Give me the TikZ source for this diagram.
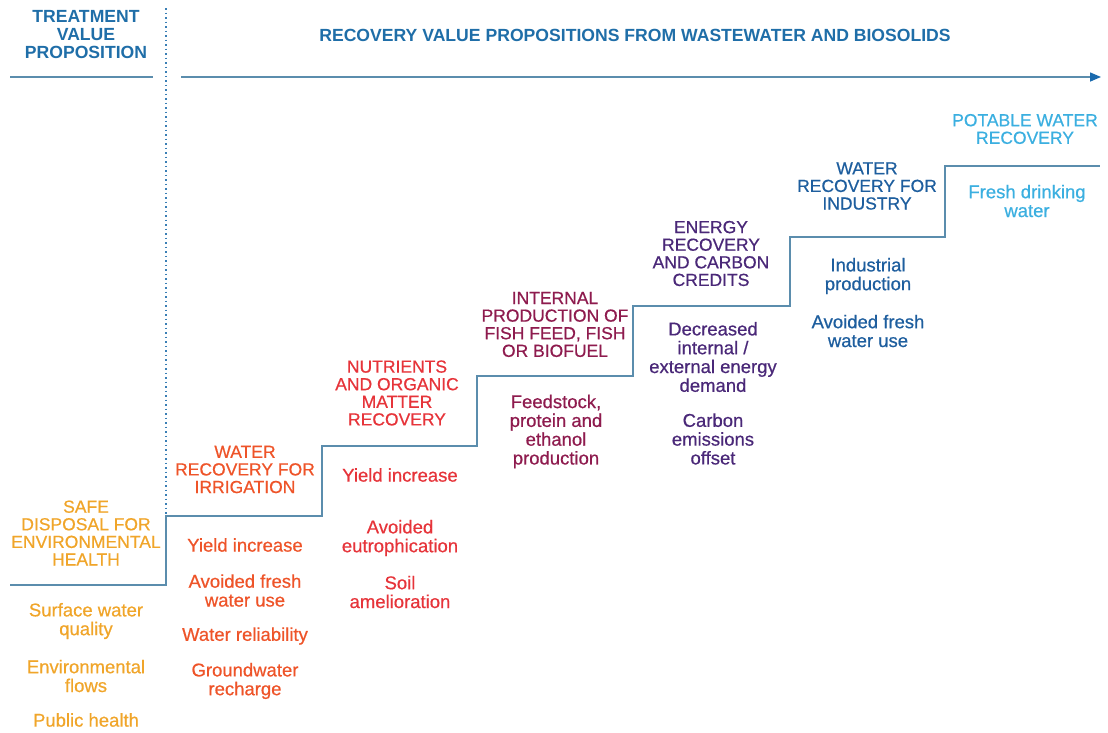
\documentclass[tikz,border=0pt]{standalone}
\usepackage{fontspec}
\setmainfont{Liberation Sans}
\newfontfamily\medfont[FakeBold=0.6]{Liberation Sans}
\usetikzlibrary{arrows.meta}
\definecolor{titleblue}{HTML}{1F6EA8}
\definecolor{stepline}{HTML}{5B8DAD}
\definecolor{dotblue}{HTML}{3A7FB5}
\definecolor{arrowblue}{HTML}{1A6AAE}
\definecolor{safec}{HTML}{F0A52A}
\definecolor{irrigc}{HTML}{EE5429}
\definecolor{nutrc}{HTML}{E6343A}
\definecolor{fishc}{HTML}{8E1B4E}
\definecolor{energyc}{HTML}{4A2878}
\definecolor{indc}{HTML}{1E5E9E}
\definecolor{potc}{HTML}{3BAFE0}
\tikzset{
  head/.style={align=center, inner sep=0pt, font=\medfont\fontsize{17.5}{17.6}\selectfont},
  title/.style={align=center, inner sep=0pt, font=\bfseries\fontsize{17.6}{17.6}\selectfont, text=titleblue},
  item/.style={align=center, inner sep=0pt, font=\medfont\fontsize{18.5}{18.8}\selectfont},
  stair/.style={draw=stepline, line width=1.5pt},
}
\begin{document}
\begin{tikzpicture}[x=1pt,y=-1pt]
\useasboundingbox (0,0) rectangle (1108,732);
% titles
\node[title] (tvp) at (86,34.5) {TREATMENT\\VALUE\\PROPOSITION};
\node[title] (rvp) at (635,35) {RECOVERY VALUE PROPOSITIONS FROM WASTEWATER AND BIOSOLIDS};
% top rules
\coordinate (ul1) at (10,77);
\coordinate (ul2) at (153,77);
\coordinate (ar1) at (181,77);
\coordinate (ar2) at (1101,77);
\draw[stepline, line width=1.5pt] (ul1) -- (ul2);
\draw[stepline, line width=1.5pt, -{Triangle[length=11pt,width=9pt,color=arrowblue]}] (ar1) -- (ar2);
% dotted divider
\coordinate (dv1) at (166,8);
\coordinate (dv2) at (166,516);
\draw[dotblue, line width=1.6pt, dash pattern=on 1.5pt off 3pt] (dv1) -- (dv2);
% staircase
\draw[stair] (10,585) -- (166,585) -- (166,516) -- (322,516) -- (322,446) -- (477,446) -- (477,376)
  -- (633,376) -- (633,306) -- (790,306) -- (790,237) -- (945,237) -- (945,166) -- (1100,166);
% step 1
\node[head, text=safec] (h1) at (86,533) {SAFE\\DISPOSAL FOR\\ENVIRONMENTAL\\HEALTH};
\node[item, text=safec] (i1a) at (86,621) {Surface water\\quality};
\node[item, text=safec] (i1b) at (86,676) {Environmental\\flows};
\node[item, text=safec] (i1c) at (86,720) {Public health};
% step 2
\node[head, text=irrigc] (h2) at (245,469.5) {WATER\\RECOVERY FOR\\IRRIGATION};
\node[item, text=irrigc] (i2a) at (245,545) {Yield increase};
\node[item, text=irrigc] (i2b) at (245,590.5) {Avoided fresh\\water use};
\node[item, text=irrigc] (i2c) at (245,636) {Water reliability};
\node[item, text=irrigc] (i2d) at (245,681) {Groundwater\\recharge};
% step 3
\node[head, text=nutrc] (h3) at (397,393) {NUTRIENTS\\AND ORGANIC\\MATTER\\RECOVERY};
\node[item, text=nutrc] (i3a) at (400,475) {Yield increase};
\node[item, text=nutrc] (i3b) at (400,538) {Avoided\\eutrophication};
\node[item, text=nutrc] (i3c) at (400,592) {Soil\\amelioration};
% step 4
\node[head, text=fishc] (h4) at (555,324.5) {INTERNAL\\PRODUCTION OF\\FISH FEED, FISH\\OR BIOFUEL};
\node[item, text=fishc] (i4a) at (556,431.5) {Feedstock,\\protein and\\ethanol\\production};
% step 5
\node[head, text=energyc] (h5) at (711,253.5) {ENERGY\\RECOVERY\\AND CARBON\\CREDITS};
\node[item, text=energyc] (i5a) at (713,357) {Decreased\\internal /\\external energy\\demand};
\node[item, text=energyc] (i5b) at (713,439) {Carbon\\emissions\\offset};
% step 6
\node[head, text=indc] (h6) at (867,186) {WATER\\RECOVERY FOR\\INDUSTRY};
\node[item, text=indc] (i6a) at (868,276) {Industrial\\production};
\node[item, text=indc] (i6b) at (868,331) {Avoided fresh\\water use};
% step 7
\node[head, text=potc] (h7) at (1025,129) {POTABLE WATER\\RECOVERY};
\node[item, text=potc] (i7a) at (1027,201) {Fresh drinking\\water};
\end{tikzpicture}
\end{document}
